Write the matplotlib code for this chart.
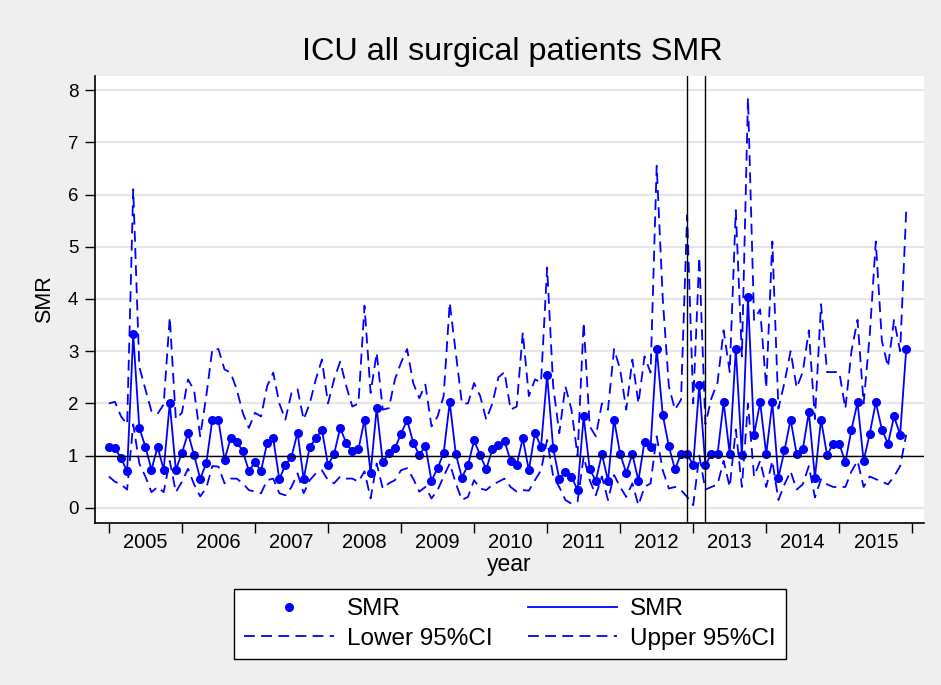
import numpy as np
import matplotlib.pyplot as plt
from matplotlib.lines import Line2D

plt.rcParams['font.family'] = ['Liberation Sans', 'DejaVu Sans']

# monthly values, Jan 2005 .. Dec 2015 (one row per year)
smr = [
    1.17, 1.14, 0.95, 0.70, 3.32, 1.53, 1.17, 0.73, 1.17, 0.73, 2.00, 0.73,
    1.05, 1.43, 1.01, 0.56, 0.85, 1.69, 1.68, 0.92, 1.33, 1.27, 1.08, 0.71,
    0.87, 0.71, 1.24, 1.33, 0.55, 0.82, 0.98, 1.44, 0.55, 1.17, 1.33, 1.50,
    0.82, 1.03, 1.53, 1.24, 1.08, 1.12, 1.69, 0.67, 1.91, 0.87, 1.05, 1.14,
    1.42, 1.68, 1.25, 1.01, 1.19, 0.52, 0.76, 1.05, 2.02, 1.03, 0.58, 0.82,
    1.29, 1.01, 0.74, 1.12, 1.21, 1.28, 0.90, 0.82, 1.33, 0.72, 1.44, 1.17,
    2.54, 1.14, 0.55, 0.69, 0.60, 0.34, 1.75, 0.74, 0.52, 1.03, 0.52, 1.69,
    1.03, 0.67, 1.03, 0.52, 1.27, 1.17, 3.05, 1.78, 1.18, 0.74, 1.03, 1.03,
    0.82, 2.35, 0.82, 1.03, 1.03, 2.02, 1.03, 3.04, 1.01, 4.03, 1.40, 2.02,
    1.03, 2.02, 0.58, 1.10, 1.69, 1.03, 1.12, 1.83, 0.58, 1.69, 1.01, 1.23,
    1.23, 0.87, 1.50, 2.02, 0.90, 1.42, 2.02, 1.50, 1.23, 1.75, 1.40, 3.04,
]
lower_ci = [
    0.60, 0.50, 0.45, 0.35, 1.60, 0.85, 0.60, 0.30, 0.40, 0.30, 0.90, 0.30,
    0.50, 0.75, 0.45, 0.22, 0.38, 0.80, 0.79, 0.47, 0.56, 0.56, 0.47, 0.34,
    0.31, 0.28, 0.53, 0.56, 0.28, 0.24, 0.40, 0.66, 0.28, 0.53, 0.66, 0.72,
    0.53, 0.47, 0.60, 0.56, 0.56, 0.50, 0.70, 0.18, 0.85, 0.37, 0.47, 0.53,
    0.72, 0.76, 0.56, 0.31, 0.40, 0.18, 0.34, 0.60, 0.85, 0.47, 0.15, 0.21,
    0.53, 0.37, 0.34, 0.44, 0.50, 0.56, 0.40, 0.31, 0.34, 0.33, 0.53, 0.72,
    1.30, 0.60, 0.40, 0.15, 0.08, 0.12, 0.98, 0.53, 0.24, 0.60, 0.15, 0.63,
    0.40, 0.21, 0.47, 0.05, 0.40, 0.47, 1.37, 0.72, 0.37, 0.40, 0.34, 0.21,
    0.05, 1.00, 0.35, 0.40, 0.45, 0.90, 0.40, 1.50, 0.40, 2.00, 0.60, 0.90,
    0.40, 0.90, 0.15, 0.45, 0.70, 0.35, 0.45, 0.80, 0.20, 0.55, 0.45, 0.40,
    0.40, 0.40, 0.70, 0.90, 0.40, 0.60, 0.55, 0.50, 0.45, 0.60, 0.80, 1.40,
]
upper_ci = [
    2.00, 2.03, 1.75, 1.60, 6.10, 2.70, 2.27, 1.85, 1.80, 1.98, 3.65, 1.70,
    1.82, 2.46, 2.25, 1.37, 2.14, 3.04, 3.04, 2.65, 2.59, 2.27, 1.82, 1.53,
    1.82, 1.75, 2.33, 2.59, 2.00, 1.69, 2.20, 2.27, 1.69, 2.00, 2.46, 2.84,
    2.00, 2.46, 2.80, 2.33, 1.94, 2.00, 3.87, 2.20, 2.97, 1.88, 1.91, 2.46,
    2.78, 3.04, 2.39, 2.10, 2.36, 1.56, 1.75, 2.14, 3.93, 2.97, 2.00, 2.00,
    2.39, 2.14, 1.69, 2.00, 2.50, 2.60, 1.88, 1.94, 3.36, 2.14, 2.46, 2.40,
    4.60, 2.33, 1.43, 2.33, 1.88, 1.00, 3.55, 1.56, 1.37, 2.00, 1.88, 3.04,
    2.65, 1.88, 2.84, 2.00, 2.90, 2.59, 6.55, 4.00, 2.33, 1.88, 2.07, 5.60,
    2.00, 4.80, 1.60, 2.10, 2.40, 3.40, 2.60, 5.70, 2.90, 7.85, 3.60, 3.80,
    2.30, 5.10, 1.90, 2.40, 3.00, 2.30, 2.60, 3.40, 1.70, 3.90, 2.60, 2.60,
    2.60, 1.90, 3.00, 3.60, 2.00, 3.30, 5.10, 3.20, 2.70, 3.60, 3.00, 5.70,
]
years = list(range(2005, 2016))
xlines = [2012 + 11 / 12, 2013 + 2 / 12]   # Dec 2012, Mar 2013

t = 2005 + np.arange(len(smr)) / 12

blue = '#0000ff'
W, H = 941, 685
fig = plt.figure(figsize=(W / 100, H / 100), dpi=100, facecolor='#efefef')
ax = fig.add_axes([95 / W, 1 - 523 / H, (924 - 95) / W, (523 - 76) / H])
ax.set_facecolor('white')

ax.plot(t, smr, color=blue, lw=1.3, marker='o', ms=5.5, zorder=3)
ax.plot(t, lower_ci, color=blue, lw=1.3, dashes=(6, 3.5), zorder=2)
ax.plot(t, upper_ci, color=blue, lw=1.3, dashes=(6, 3.5), zorder=2)

ax.axhline(1, color='black', lw=1, zorder=4)
for xl in xlines:
    ax.axvline(xl, color='black', lw=1, zorder=4)

ax.set_ylim(-0.29, 8.27)
ax.set_xlim(2004.81, 2016.16)
ax.set_yticks(range(0, 9))
ax.yaxis.grid(True, color='#e6e6e6', lw=1.5)
ax.set_axisbelow(True)

ax.set_xticks(years + [2016])
ax.set_xticklabels([])
ax.set_xticks([y + 0.5 for y in years], minor=True)
ax.set_xticklabels([str(y) for y in years], minor=True)
ax.tick_params(axis='x', which='minor', length=0, labelsize=14.5, pad=7)
ax.tick_params(axis='x', which='major', length=7, width=1)
ax.tick_params(axis='y', length=7, width=1, labelsize=13.5, pad=5)

for side in ['top', 'right']:
    ax.spines[side].set_visible(False)
for side in ['left', 'bottom']:
    ax.spines[side].set_linewidth(1.2)

ax.set_ylabel('SMR', fontsize=15.5, labelpad=9)
ax.set_xlabel('year', fontsize=16.5, labelpad=1)
fig.text(512 / W, 1 - 52 / H, 'ICU all surgical patients SMR', ha='center',
         va='center', fontsize=23.3)

handles = [
    Line2D([], [], color=blue, marker='o', ms=5.5, ls='none'),
    Line2D([], [], color=blue, lw=1.3, dashes=(6, 3.5)),
    Line2D([], [], color=blue, lw=1.3),
    Line2D([], [], color=blue, lw=1.3, dashes=(6, 3.5)),
]
labels = ['SMR', 'Lower 95%CI', 'SMR', 'Upper 95%CI']
fig.legend(handles, labels, ncol=2, loc='center', bbox_to_anchor=(510 / W, 1 - 624 / H),
           fontsize=17.5, handlelength=3.7, handletextpad=0.53, columnspacing=1.44,
           frameon=True, fancybox=False, edgecolor='black', framealpha=1,
           borderpad=0.4, labelspacing=0.3)

fig.savefig('out.png', dpi=100, facecolor=fig.get_facecolor())
